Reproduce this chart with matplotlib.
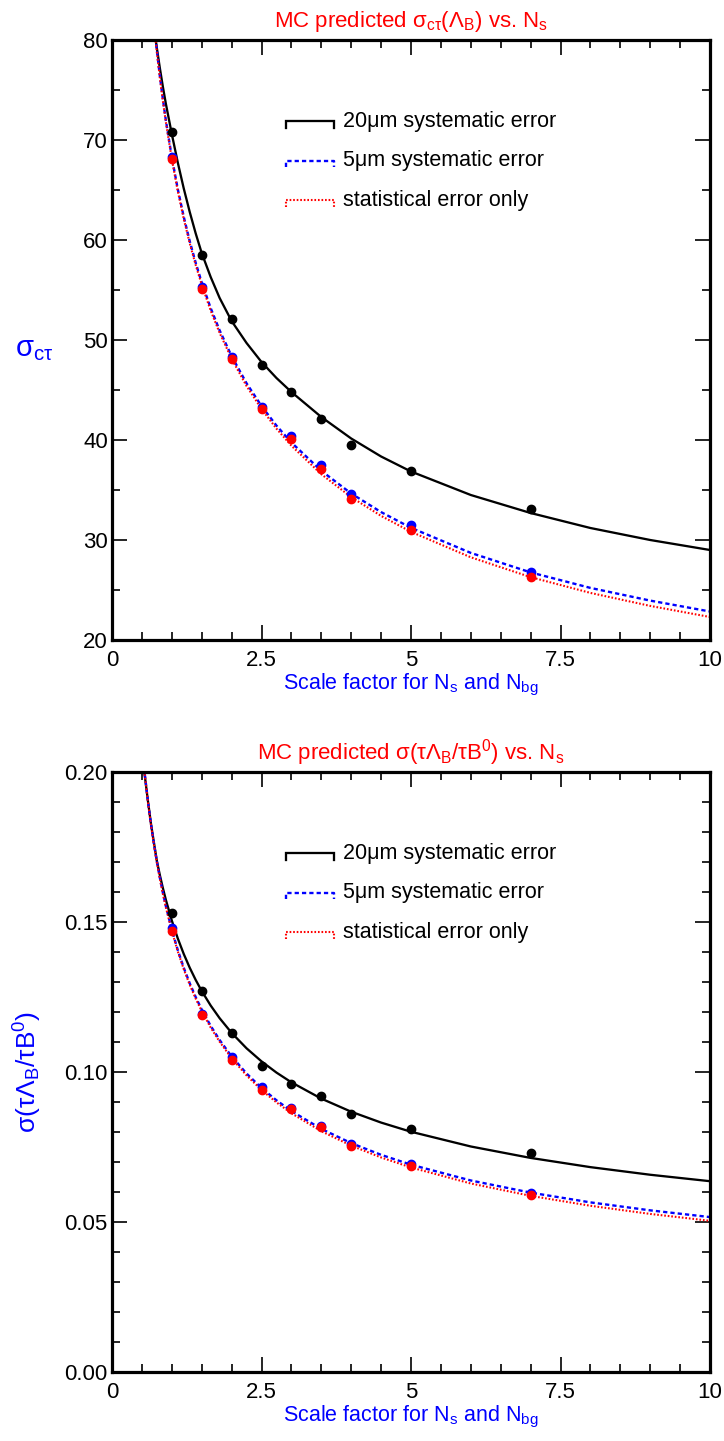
import matplotlib
matplotlib.use("Agg")
import matplotlib.pyplot as plt
from matplotlib.ticker import MultipleLocator

plt.rcParams['font.family'] = ['Liberation Sans', 'DejaVu Sans']
plt.rcParams['mathtext.fontset'] = 'custom'
plt.rcParams['mathtext.rm'] = 'Liberation Sans'
plt.rcParams['mathtext.it'] = 'Liberation Sans'
plt.rcParams['mathtext.bf'] = 'Liberation Sans:bold'
plt.rcParams['mathtext.default'] = 'regular'

# ---------------- data ----------------
scale_pts = [1, 1.5, 2, 2.5, 3, 3.5, 4, 5, 7]

# top panel: sigma_ctau (MC points)
ctau_20um_pts = [70.8, 58.5, 52.1, 47.5, 44.8, 42.1, 39.5, 36.9, 33.1]
ctau_5um_pts = [68.3, 55.3, 48.3, 43.3, 40.4, 37.5, 34.6, 31.5, 26.8]
ctau_stat_pts = [68.1, 55.1, 48.1, 43.1, 40.1, 37.1, 34.1, 31.0, 26.3]

# top panel: curves
curve_x_top = [0.7, 0.75, 0.8, 0.85, 0.9, 1.0, 1.1, 1.2, 1.3, 1.4, 1.5, 1.65,
               1.8, 2.0, 2.25, 2.5, 2.75, 3.0, 3.5, 4.0, 4.5, 5.0, 6.0, 7.0,
               8.0, 9.0, 10.0]
ctau_20um_curve = [81.4, 79.2, 77.2, 75.35, 73.65, 70.6, 67.75, 65.15, 62.8,
                   60.65, 58.7, 56.3, 54.2, 51.9, 49.7, 47.8, 46.2, 44.8, 42.3,
                   40.15, 38.35, 36.85, 34.5, 32.7, 31.2, 30.0, 29.0]
ctau_5um_curve = [81.77, 78.96, 76.41, 74.12, 72.00, 68.28, 65.09, 62.32, 59.88,
                  57.71, 55.76, 53.19, 50.96, 48.39, 45.67, 43.40, 41.44, 39.75,
                  36.92, 34.65, 32.79, 31.22, 28.71, 26.76, 25.21, 23.94, 22.85]
ctau_stat_curve = [81.62, 78.80, 76.25, 73.95, 71.83, 68.10, 64.90, 62.12, 59.67,
                   57.49, 55.54, 52.95, 50.71, 48.13, 45.40, 43.11, 41.14, 39.43,
                   36.58, 34.29, 32.41, 30.82, 28.27, 26.29, 24.71, 23.41, 22.30]

# bottom panel: sigma(tau_LambdaB / tau_B0) (MC points)
ratio_20um_pts = [0.153, 0.127, 0.113, 0.102, 0.096, 0.092, 0.086, 0.081, 0.073]
ratio_5um_pts = [0.148, 0.1195, 0.105, 0.095, 0.088, 0.082, 0.076, 0.0695, 0.0596]
ratio_stat_pts = [0.147, 0.119, 0.104, 0.094, 0.0877, 0.0816, 0.0753, 0.0687, 0.059]

# bottom panel: curves
curve_x_bot = [0.5, 0.55, 0.6, 0.65, 0.7, 0.75, 0.8, 0.85, 0.9, 1.0, 1.1, 1.2,
               1.3, 1.4, 1.5, 1.65, 1.8, 2.0, 2.25, 2.5, 2.75, 3.0, 3.5, 4.0,
               4.5, 5.0, 6.0, 7.0, 8.0, 9.0, 10.0]
ratio_20um_curve = [0.2060, 0.1985, 0.1905, 0.1830, 0.1766, 0.17037, 0.16566,
                    0.16137, 0.15744, 0.15050, 0.14453, 0.13933, 0.13475,
                    0.13067, 0.12701, 0.12216, 0.11793, 0.11305, 0.10790,
                    0.10355, 0.09981, 0.09656, 0.09113, 0.08676, 0.08314,
                    0.08008, 0.07517, 0.07136, 0.06829, 0.06575, 0.06360]
ratio_5um_curve = [0.20893, 0.19904, 0.19045, 0.18289, 0.17619, 0.17018, 0.16476,
                   0.15984, 0.15536, 0.14743, 0.14064, 0.13474, 0.12956, 0.12495,
                   0.12083, 0.11539, 0.11065, 0.10521, 0.09949, 0.09468, 0.09057,
                   0.08698, 0.08104, 0.07629, 0.07239, 0.06910, 0.06384, 0.05979,
                   0.05654, 0.05388, 0.05164]
ratio_stat_curve = [0.20863, 0.19872, 0.19012, 0.18255, 0.17583, 0.16981, 0.16438,
                    0.15945, 0.15495, 0.14700, 0.14019, 0.13427, 0.12907, 0.12445,
                    0.12031, 0.11484, 0.11008, 0.10461, 0.09886, 0.09401, 0.08987,
                    0.08625, 0.08026, 0.07546, 0.07151, 0.06818, 0.06284, 0.05872,
                    0.05541, 0.05269, 0.05040]

legend_labels = ["20\u03bcm systematic error", "5\u03bcm systematic error",
                 "statistical error only"]

# ---------------- styling ----------------
W, H = 724, 1441
fig = plt.figure(figsize=(W / 100, H / 100), dpi=100)

ax_left = 112 / W
ax_w = 598 / W
ax_h = 600 / H
ax_top = fig.add_axes([ax_left, 1 - 640 / H, ax_w, ax_h])
ax_bot = fig.add_axes([ax_left, 1 - 1372 / H, ax_w, ax_h])

styles = [
    dict(color='black', linestyle='-', lw=1.65),
    dict(color='blue', linestyle=(0, (1.8, 1.3)), lw=1.7),
    dict(color='red', linestyle=(0, (0.8, 0.9)), lw=1.5),
]
pt_colors = ['black', 'blue', 'red']


def draw_panel(ax, cx, curves, pts, ylim, ymajor, yminor, yfmt):
    for c, st in zip(curves, styles):
        ax.plot(cx, c, zorder=2, **st)
    for p, col in zip(pts, pt_colors):
        ax.plot(scale_pts, p, 'o', color=col, ms=6, mec=col, zorder=3)
    ax.set_xlim(0, 10)
    ax.set_ylim(*ylim)
    ax.xaxis.set_major_locator(MultipleLocator(2.5))
    ax.xaxis.set_minor_locator(MultipleLocator(0.5))
    ax.yaxis.set_major_locator(MultipleLocator(ymajor))
    ax.yaxis.set_minor_locator(MultipleLocator(yminor))
    ax.xaxis.set_major_formatter(plt.FuncFormatter(lambda v, p: '%g' % v))
    ax.yaxis.set_major_formatter(plt.FuncFormatter(lambda v, p: yfmt % v))
    ax.tick_params(which='both', direction='in', top=True, right=True,
                   labelsize=16, width=1.2)
    ax.tick_params(axis='x', which='both', pad=7)
    ax.tick_params(axis='y', which='both', pad=3)
    ax.tick_params(which='major', length=11)
    ax.tick_params(which='minor', length=5.5)
    for s in ax.spines.values():
        s.set_linewidth(2.3)
    ax.set_xlabel("Scale factor for N$_s$ and N$_{bg}$", color='blue',
                  fontsize=15.5, labelpad=1)

    # custom legend with bracket-shaped handles
    rows = [0.865, 0.799, 0.733]
    x0, x1, tk = 0.291, 0.371, 0.011
    for yy, st, lab in zip(rows, styles, legend_labels):
        ax.plot([x0, x0, x1, x1], [yy - tk, yy, yy, yy - tk],
                transform=ax.transAxes, solid_joinstyle='miter', **st)
        ax.text(0.386, yy, lab, transform=ax.transAxes, fontsize=15.5,
                va='center', ha='left')


draw_panel(ax_top, curve_x_top,
           [ctau_20um_curve, ctau_5um_curve, ctau_stat_curve],
           [ctau_20um_pts, ctau_5um_pts, ctau_stat_pts],
           (20, 80), 10, 5, '%g')
ax_top.set_title(r"MC predicted $\sigma_{c\tau}(\Lambda_B)$ vs. N$_s$",
                 color='red', fontsize=16, pad=9)
ax_top.set_ylabel(r"$\sigma_{c\tau}$", color='blue', fontsize=21,
                  rotation=0, va='center', ha='center')
ax_top.yaxis.set_label_coords(-0.13, 0.485)

draw_panel(ax_bot, curve_x_bot,
           [ratio_20um_curve, ratio_5um_curve, ratio_stat_curve],
           [ratio_20um_pts, ratio_5um_pts, ratio_stat_pts],
           (0.0, 0.2), 0.05, 0.01, '%.2f')
ax_bot.set_title(r"MC predicted $\sigma(\tau\Lambda_B/\tau B^0)$ vs. N$_s$",
                 color='red', fontsize=16, pad=9)
ax_bot.set_ylabel(r"$\sigma(\tau\Lambda_B/\tau B^0)$", color='blue',
                  fontsize=19, va='center')
ax_bot.yaxis.set_label_coords(-0.14, 0.5)

fig.savefig("out.png", dpi=100)
